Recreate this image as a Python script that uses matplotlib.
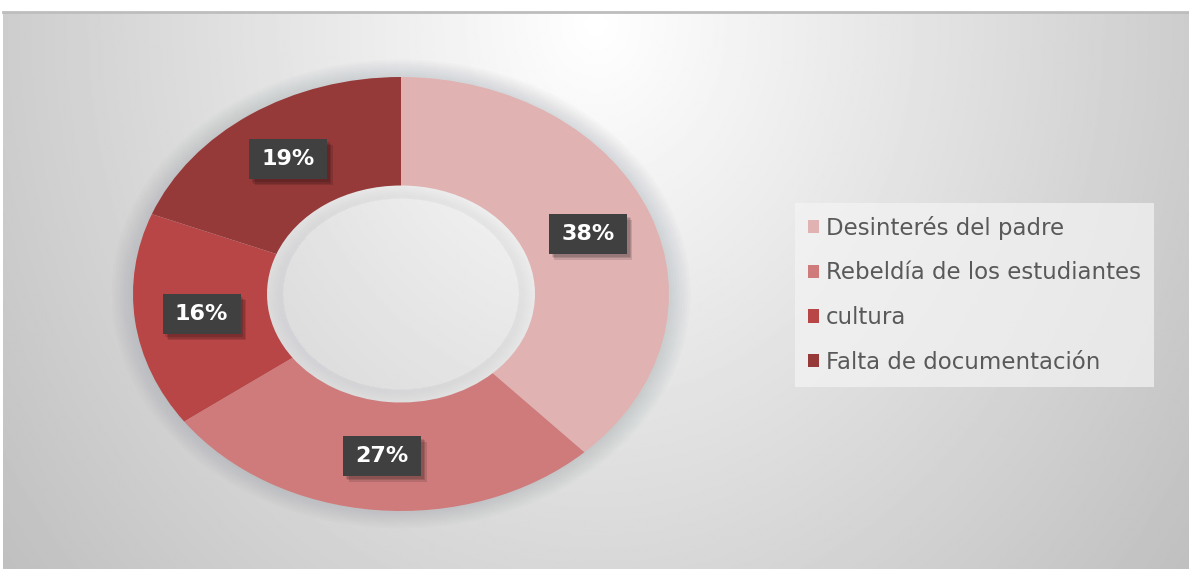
import numpy as np
import matplotlib
matplotlib.use("Agg")
import matplotlib.pyplot as plt
import matplotlib.patheffects as pe
from matplotlib.patches import Rectangle
from matplotlib.transforms import IdentityTransform

# datos del grafico
categorias = ["Desinterés del padre", "Rebeldía de los estudiantes",
              "cultura", "Falta de documentación"]
porcentajes = [38, 27, 16, 19]
colores = ["#E0B3B2", "#CF7B7B", "#B94646", "#963939"]

W, H = 1189, 569
fig = plt.figure(figsize=(W / 100, H / 100), dpi=100)
fig.patch.set_facecolor("white")

# fondo con degradado radial (blanco arriba al centro, gris en los bordes)
bg = fig.add_axes([3 / W, 0, 1 - 3 / W, (H - 12) / H])
xx, yy = np.meshgrid(np.linspace(0, 1, 600), np.linspace(0, 1, 300))
d = np.sqrt(((xx - 0.5) / 0.5) ** 2 + ((yy - 0.02) / 1.25) ** 2)
gris = np.clip(255 - 50 * d, 192, 255) / 255
bg.imshow(gris, cmap="gray", vmin=0, vmax=1, aspect="auto",
          extent=[0, 1, 1, 0], interpolation="bilinear")
bg.set_xlim(0, 1)
bg.set_ylim(1, 0)
bg.axis("off")
# linea gris superior
fig.add_artist(plt.Line2D([3 / W, 1], [1 - 12 / H, 1 - 12 / H],
                          color="#bdbdbd", lw=2))

# dona (la imagen original esta estirada en horizontal)
cx, cy, rx, ry = 401, 294, 268, 217
ax = fig.add_axes([(cx - rx) / W, 1 - (cy + ry) / H, 2 * rx / W, 2 * ry / H])

# sombra suave alrededor (solo por fuera del anillo)
for r in np.linspace(1.08, 1.01, 8):
    ax.pie([1], radius=r, colors=["#7a8590"],
           wedgeprops=dict(width=r - 0.99, alpha=0.03, linewidth=0))
# sombra muy leve dentro del hueco
for r in np.linspace(0.5, 0.46, 5):
    ax.pie([1], radius=r, colors=["#8a939c"],
           wedgeprops=dict(width=r - 0.44, alpha=0.015, linewidth=0))

wedges, _ = ax.pie(porcentajes, colors=colores, startangle=90, counterclock=False,
                   radius=1.0, wedgeprops=dict(width=0.5, linewidth=0))

ax.set_xlim(-1, 1)
ax.set_ylim(-1, 1)
ax.set_aspect("auto")
ax.axis("off")

# etiquetas con caja oscura (caja de tamaño fijo en pixeles)
bw, bh = 78, 40
sombra = [pe.SimplePatchShadow(offset=(o, -o), shadow_rgbFace="#000000", alpha=0.12)
          for o in (4, 3, 2)] + [pe.Normal()]
for w, p in zip(wedges, porcentajes):
    ang = np.deg2rad((w.theta1 + w.theta2) / 2)
    lx, ly = 0.75 * np.cos(ang), 0.75 * np.sin(ang)
    px, py = ax.transData.transform((lx, ly))
    caja = Rectangle((px - bw / 2, py - bh / 2), bw, bh,
                     transform=IdentityTransform(),
                     fc="#404040", ec="none", zorder=5, clip_on=False)
    caja.set_path_effects(sombra)
    ax.add_artist(caja)
    ax.text(lx, ly, f"{p}%", ha="center", va="center", color="white",
            fontsize=16, fontweight="bold", family="DejaVu Sans", zorder=6)

# leyenda
leg = fig.legend(wedges, categorias, loc="upper left",
                 bbox_to_anchor=(795 / W, 1 - 203 / H),
                 prop=dict(family="DejaVu Sans", size=16.5),
                 labelcolor="#595959", frameon=True, fancybox=False,
                 handlelength=0.5, handleheight=0.5, handletextpad=0.3,
                 labelspacing=0.95, borderpad=0.55, borderaxespad=0)
leg.get_frame().set_facecolor("#f4f4f4")
leg.get_frame().set_alpha(0.7)
leg.get_frame().set_edgecolor("none")

fig.savefig("out.png", dpi=100)
